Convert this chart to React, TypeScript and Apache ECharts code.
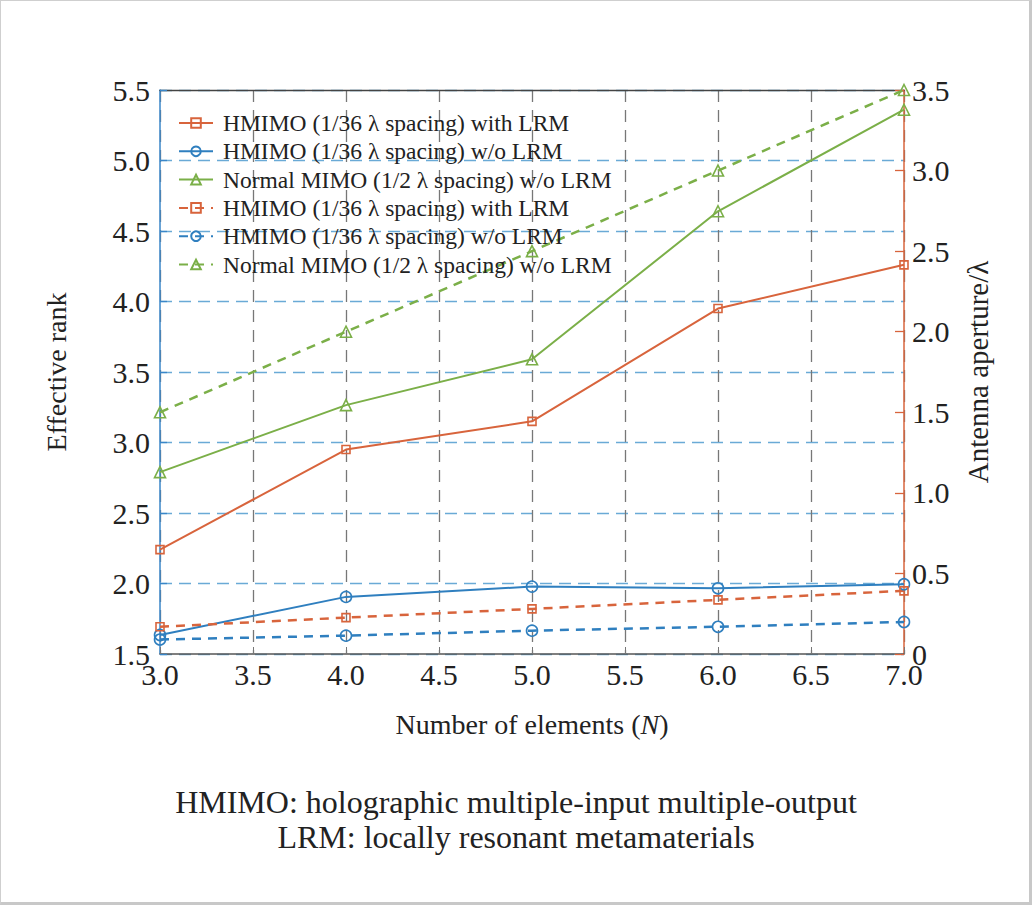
import React, { useEffect, useRef } from "react";
import * as echarts from "echarts";

const elements = [3, 4, 5, 6, 7];
const hmimoLrmRank = [2.24, 2.95, 3.15, 3.95, 4.26];
const hmimoNoLrmRank = [1.635, 1.905, 1.978, 1.966, 1.995];
const normalMimoRank = [2.79, 3.265, 3.59, 4.64, 5.36];
const hmimoLrmAperture = [0.169, 0.226, 0.28, 0.336, 0.392];
const hmimoNoLrmAperture = [0.09, 0.114, 0.145, 0.169, 0.199];
const normalMimoAperture = [1.5, 2.0, 2.5, 3.0, 3.5];

const names = [
  "HMIMO (1/36 λ spacing) with LRM",
  "HMIMO (1/36 λ spacing) w/o LRM",
  "Normal MIMO (1/2 λ spacing) w/o LRM",
];
const captionLines = [
  "HMIMO: holographic multiple-input multiple-output",
  "LRM: locally resonant metamaterials",
];

const ORANGE = "#D8643C";
const BLUE = "#2F7FBF";
const GREEN = "#7BAF48";
const FONT = "'Liberation Serif', 'DejaVu Serif', serif";

function pairs(ys: number[]) {
  return elements.map((x, i) => [x, ys[i]]);
}

function makeSeries(
  name: string,
  ys: number[],
  color: string,
  symbol: string,
  size: number,
  dashed: boolean,
  yAxisIndex: number
) {
  return {
    type: "line",
    name,
    data: pairs(ys),
    yAxisIndex,
    symbol,
    symbolSize: size,
    showSymbol: true,
    lineStyle: {
      color,
      width: dashed ? 2.5 : 2,
      type: dashed ? [9, 7] : "solid",
    },
    itemStyle: { color: "rgba(255,255,255,0)", borderColor: color, borderWidth: 1.6 },
    emphasis: { disabled: true },
  };
}

export default function App() {
  const ref = useRef<HTMLDivElement>(null);
  useEffect(() => {
    document.body.style.margin = "0";
    const chart = echarts.init(ref.current!, undefined, { renderer: "svg" });
    const fmt1 = (v: number) => v.toFixed(1);
    chart.setOption({
      animation: false,
      backgroundColor: "#ffffff",
      textStyle: { fontFamily: FONT },
      grid: { left: 160, right: 128, top: 90, bottom: 251 },
      legend: {
        orient: "vertical",
        left: 178,
        top: 111,
        itemWidth: 34,
        itemHeight: 12,
        itemGap: 4.3,
        padding: 0,
        textStyle: { fontFamily: FONT, fontSize: 23.5, color: "#222", padding: [0, 0, 0, 5] },
        formatter: (n: string) => n.trim(),
        data: [names[0], names[1], names[2], names[0] + " ", names[1] + " ", names[2] + " "],
      },
      xAxis: [
        {
          type: "value",
          min: 3,
          max: 7,
          interval: 0.5,
          name: "Number of elements ({i|N})",
          nameLocation: "middle",
          nameGap: 56,
          nameTextStyle: {
            fontFamily: FONT,
            fontSize: 28,
            color: "#222",
            rich: { i: { fontFamily: FONT, fontSize: 28, fontStyle: "italic", color: "#222" } },
          },
          axisLine: { lineStyle: { color: "#555", width: 1.5 } },
          axisTick: { inside: true, length: 7, lineStyle: { color: "#777" } },
          axisLabel: { formatter: fmt1, fontSize: 30, color: "#222", margin: 5, fontFamily: FONT },
          splitLine: { show: true, lineStyle: { color: "#777", type: [12, 8], width: 1.3 } },
        },
        {
          type: "value",
          position: "top",
          min: 3,
          max: 7,
          interval: 0.5,
          axisLine: { show: true, lineStyle: { color: "#444", width: 1.3 } },
          axisTick: { show: false },
          axisLabel: { show: false },
          splitLine: { show: false },
        },
      ],
      yAxis: [
        {
          type: "value",
          min: 1.5,
          max: 5.5,
          interval: 0.5,
          name: "Effective rank",
          nameLocation: "middle",
          nameGap: 90,
          nameRotate: 90,
          nameTextStyle: { fontFamily: FONT, fontSize: 28, color: "#222" },
          axisLine: { show: true, lineStyle: { color: "#3A86C8", width: 1.5 } },
          axisTick: { show: true, inside: true, length: 7, lineStyle: { color: "#3A86C8", width: 1.3 } },
          axisLabel: { formatter: fmt1, fontSize: 30, color: "#222", margin: 10, fontFamily: FONT },
          splitLine: { show: true, lineStyle: { color: "#6AAAD6", type: [12, 7], width: 1.3 } },
        },
        {
          type: "value",
          min: 0,
          max: 3.5,
          interval: 0.5,
          position: "right",
          name: "Antenna aperture/λ",
          nameLocation: "middle",
          nameGap: 59,
          nameRotate: 90,
          nameTextStyle: { fontFamily: FONT, fontSize: 29, color: "#222" },
          axisLine: { show: true, lineStyle: { color: ORANGE, width: 1.5 } },
          axisTick: { show: true, inside: true, length: 9, lineStyle: { color: ORANGE, width: 1.3 } },
          axisLabel: {
            formatter: (v: number) => (v === 0 ? "0" : v.toFixed(1)),
            fontSize: 30,
            color: "#222",
            margin: 8,
            fontFamily: FONT,
          },
          splitLine: { show: false },
        },
      ],
      series: [
        makeSeries(names[0], hmimoLrmRank, ORANGE, "rect", 8, false, 0),
        makeSeries(names[1], hmimoNoLrmRank, BLUE, "circle", 11, false, 0),
        makeSeries(names[2], normalMimoRank, GREEN, "triangle", 11, false, 0),
        makeSeries(names[0] + " ", hmimoLrmAperture, ORANGE, "rect", 8, true, 1),
        makeSeries(names[1] + " ", hmimoNoLrmAperture, BLUE, "circle", 11, true, 1),
        makeSeries(names[2] + " ", normalMimoAperture, GREEN, "triangle", 11, true, 1),
      ],
      graphic: captionLines.map((t, i) => ({
        type: "text",
        left: "center",
        top: 786 + i * 35,
        style: { text: t, fontFamily: FONT, fontSize: 32, fill: "#222" },
      })),
    });
    return () => chart.dispose();
  }, []);
  return (
    <div style={{ position: "relative", width: 1032, height: 905 }}>
      <div ref={ref} style={{ position: "absolute", left: 0, top: 0, width: 1032, height: 905 }} />
      <div
        style={{
          position: "absolute",
          left: 0,
          top: 0,
          width: 1032,
          height: 905,
          boxSizing: "border-box",
          borderTop: "1px solid #cfcfcf",
          borderLeft: "1px solid #cfcfcf",
          borderRight: "3px solid #c8c8c8",
          borderBottom: "3px solid #c8c8c8",
          pointerEvents: "none",
        }}
      />
    </div>
  );
}
